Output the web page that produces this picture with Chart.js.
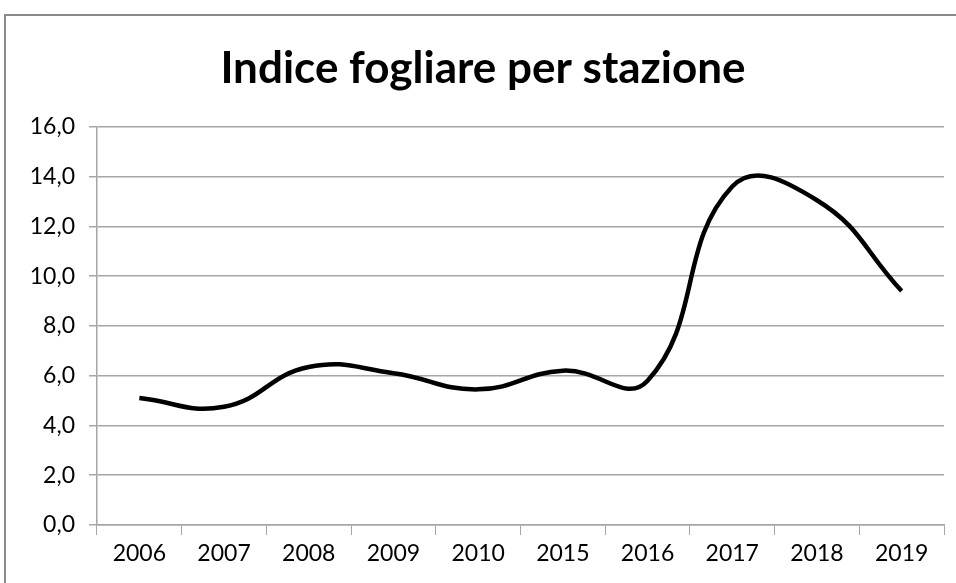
<!DOCTYPE html>
<html>
<head>
<meta charset="utf-8">
<script src="https://cdn.jsdelivr.net/npm/chart.js@4.4.1/dist/chart.umd.min.js"></script>
<style>
  html, body { margin: 0; padding: 0; background: #fff; overflow: hidden; }
  #frame {
    position: absolute; left: 4px; top: 14px; width: 1000px; height: 600px;
    border: 2px solid #8a8a8a; box-sizing: border-box;
  }
  #wrap { position: absolute; left: 0; top: 0; width: 956px; height: 583px; }
</style>
</head>
<body>
<div id="frame"></div>
<div id="wrap"><canvas id="chart" width="956" height="583"></canvas></div>
<script>
// data
const years = ["2006", "2007", "2008", "2009", "2010", "2015", "2016", "2017", "2018", "2019"];
const indiceFogliare = [5.1, 4.75, 6.35, 6.1, 5.45, 6.2, 5.8, 13.6, 13.05, 9.4];
const yTicks = [0, 2, 4, 6, 8, 10, 12, 14, 16];

const fontFamily = "Lato, 'Open Sans', sans-serif";

new Chart(document.getElementById("chart"), {
  type: "line",
  data: {
    labels: years,
    datasets: [
      {
        label: "Indice fogliare",
        data: indiceFogliare,
        borderColor: "#000000",
        borderWidth: 4.5,
        tension: 0.45,
        pointRadius: 0,
        fill: false,
      },
    ],
  },
  options: {
    responsive: false,
    animation: false,
    layout: { padding: { top: 0, right: 12, left: 22, bottom: 0 } },
    plugins: {
      legend: { display: false },
      tooltip: { enabled: false },
      title: {
        display: true,
        text: "Indice fogliare per stazione",
        color: "#000",
        font: { family: fontFamily, size: 44, weight: "bold", lineHeight: 1.2 },
        padding: { top: 42, bottom: 32 },
      },
    },
    scales: {
      x: {
        offset: true,
        grid: {
          offset: true,
          drawOnChartArea: false,
          drawTicks: true,
          tickLength: 10,
          color: "#a6a6a6",
        },
        border: { color: "#a6a6a6", width: 1.5 },
        ticks: { color: "#000", font: { family: fontFamily, size: 23 }, padding: 5, maxRotation: 0 },
        afterFit: (scale) => { scale.height = 58; },
      },
      y: {
        min: 0,
        max: 16,
        afterBuildTicks: (scale) => { scale.ticks = yTicks.map((v) => ({ value: v })); },
        grid: { color: "#a6a6a6", lineWidth: 1.5, tickLength: 8 },
        border: { color: "#a6a6a6", width: 1.5 },
        ticks: {
          color: "#000",
          font: { family: fontFamily, size: 23 },
          padding: 14,
          callback: (v) => v.toFixed(1).replace(".", ","),
        },
        afterFit: (scale) => { scale.width = 75; },
      },
    },
  },
});
</script>
</body>
</html>
